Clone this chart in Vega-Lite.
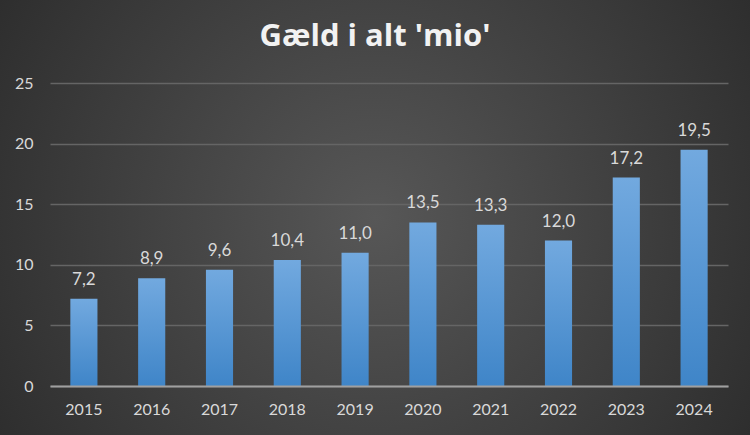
{
  "$schema": "https://vega.github.io/schema/vega-lite/v6.json",
  "width": 750,
  "height": 435,
  "autosize": {"type": "none"},
  "padding": 0,
  "background": "#2e2e2e",
  "title": {
    "text": "Gæld i alt 'mio'",
    "anchor": "middle",
    "frame": "group",
    "orient": "top",
    "offset": -77,
    "baseline": "alphabetic",
    "font": "Open Sans",
    "fontSize": 31,
    "fontWeight": "bold",
    "color": "#f2f2f2"
  },
  "data": {
    "values": [
      {"year": "2015", "value": 7.2},
      {"year": "2016", "value": 8.9},
      {"year": "2017", "value": 9.6},
      {"year": "2018", "value": 10.4},
      {"year": "2019", "value": 11.0},
      {"year": "2020", "value": 13.5},
      {"year": "2021", "value": 13.3},
      {"year": "2022", "value": 12.0},
      {"year": "2023", "value": 17.2},
      {"year": "2024", "value": 19.5}
    ]
  },
  "encoding": {
    "x": {
      "field": "year",
      "type": "nominal",
      "sort": null,
      "scale": {"range": [50, 728], "paddingInner": 0.6, "paddingOuter": 0.3},
      "axis": {
        "title": null,
        "orient": "bottom",
        "offset": -49,
        "labelAngle": 0,
        "ticks": false,
        "domain": true,
        "domainColor": "#a0a0a0",
        "domainWidth": 2,
        "labelPadding": 15,
        "labelFont": "Lato",
        "labelFontSize": 16,
        "labelColor": "#d9d9d9",
        "grid": false,
        "zindex": 1
      }
    },
    "y": {
      "field": "value",
      "type": "quantitative",
      "scale": {"domain": [0, 25], "range": [386, 83], "nice": false, "zero": true},
      "axis": {
        "title": null,
        "orient": "left",
        "offset": -50,
        "values": [0, 5, 10, 15, 20, 25],
        "ticks": false,
        "domain": false,
        "grid": true,
        "gridColor": "#656565",
        "gridWidth": 1.3,
        "labelPadding": 17,
        "labelFont": "Lato",
        "labelFontSize": 16,
        "labelColor": "#d9d9d9"
      }
    }
  },
  "layer": [
    {
      "mark": {
        "type": "bar",
        "color": {
          "gradient": "linear",
          "x1": 0, "y1": 0, "x2": 0, "y2": 1,
          "stops": [
            {"offset": 0, "color": "#72a9df"},
            {"offset": 1, "color": "#3f85c8"}
          ]
        }
      }
    },
    {
      "mark": {
        "type": "text",
        "baseline": "alphabetic",
        "dy": -14,
        "font": "Lato",
        "fontSize": 17,
        "color": "#d9d9d9"
      },
      "encoding": {
        "text": {"field": "value", "type": "quantitative", "format": ".1f"}
      }
    }
  ],
  "config": {
    "locale": {
      "number": {
        "decimal": ",",
        "thousands": ".",
        "grouping": [3],
        "currency": ["", " kr."]
      }
    },
    "view": {
      "stroke": null,
      "fill": {
        "gradient": "radial",
        "x1": 0.5, "y1": 0.5, "r1": 0,
        "x2": 0.5, "y2": 0.5, "r2": 0.72,
        "stops": [
          {"offset": 0, "color": "#575757"},
          {"offset": 1, "color": "#242424"}
        ]
      }
    }
  }
}
